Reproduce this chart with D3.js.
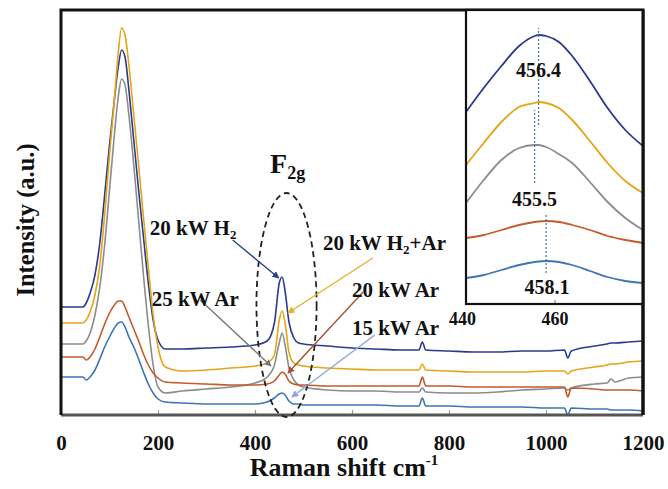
<!DOCTYPE html>
<html>
<head>
<meta charset="utf-8">
<script src="https://cdn.jsdelivr.net/npm/d3@7/dist/d3.min.js"></script>
<style>
  body { margin: 0; background: #fff; }
  text { font-family: "Liberation Serif", "Times New Roman", Times, serif; font-weight: bold; fill: #111; }
</style>
</head>
<body>
<svg id="chart" width="668" height="489"></svg>
<script>
// Raman shift grid (cm-1) shared by the five spectra
const ramanShift = [0, 45, 52, 60, 70, 80, 90, 100, 110, 118,
  125, 132, 140, 150, 160, 170, 180, 190, 200, 215,
  250, 300, 350, 400, 425, 440, 450, 456, 462, 470,
  480, 490, 500, 550, 600, 650, 700, 738, 745, 752,
  800, 850, 900, 950, 1000, 1038, 1045, 1052, 1100, 1126,
  1134, 1142, 1170, 1200];

// intensities (a.u., stacked with offsets as in the figure)
const h2_20kW = [108, 108, 112, 122, 140, 172, 220, 270, 315, 348,
  365, 358, 325, 275, 225, 178, 132, 95, 75, 66,
  66, 67, 68, 70, 74, 92, 132, 138, 124, 93,
  77, 72, 71, 69, 67, 66, 65, 65, 73, 65,
  64, 63, 63, 64, 64, 65, 57, 64, 69, 71,
  72, 72, 73, 74];
const h2ar_20kW = [92, 92, 95, 103, 120, 150, 200, 260, 315, 362,
  387, 380, 350, 300, 250, 198, 148, 100, 68, 48,
  44, 45, 47, 49, 52, 60, 95, 104, 92, 63,
  52, 50, 49, 47, 46, 45, 45, 45, 51, 45,
  44, 43, 43, 43, 44, 44, 41, 44, 48, 50,
  51, 51, 53, 54];
const ar_25kW = [71, 71, 74, 82, 100, 128, 170, 225, 280, 318,
  336, 330, 300, 250, 195, 140, 90, 50, 28, 22,
  24, 26, 28, 32, 38, 50, 72, 82, 70, 47,
  35, 30, 28, 25, 24, 24, 23, 23, 27, 23,
  22, 22, 23, 25, 26, 27, 25, 27, 31, 32,
  36, 33, 37, 38];
const ar_20kW = [58, 58, 55, 58, 66, 78, 91, 102, 110, 114,
  114, 108, 98, 86, 74, 61, 50, 42, 37, 33,
  32, 31, 30, 30, 31, 34, 40, 43, 41, 34,
  31, 30, 30, 29, 29, 29, 29, 29, 38, 29,
  29, 28, 28, 28, 28, 28, 18, 27, 26, 25,
  25, 25, 25, 24];
const ar_15kW = [38, 38, 35, 38, 45, 56, 68, 78, 87, 92,
  93, 88, 78, 68, 56, 43, 31, 22, 16, 13,
  12, 11, 11, 11, 13, 17, 21, 22, 20, 14,
  11, 11, 10, 10, 10, 10, 9, 9, 17, 9,
  9, 8, 8, 8, 7, 7, 0, 7, 6, 6,
  5, 5, 5, 4];

// inset: zoom on the F2g band
const insetShift = [440, 444, 448, 452, 455.5, 456.4, 458.1, 461, 464, 468, 472, 476, 480];
const insetH2_20kW = [192, 216, 238, 258, 268, 269, 268, 262, 248, 223, 196, 174, 158];
const insetH2Ar_20kW = [139, 161, 182, 197, 201, 202, 201, 196, 184, 163, 141, 123, 111];
const insetAr_25kW = [101, 124, 144, 156, 159, 159, 157, 150, 141, 122, 102, 86, 74];
const insetAr_20kW = [66, 69, 74, 79, 82, 82.5, 83, 82, 79, 74, 68, 64, 61];
const insetAr_15kW = [26, 29, 34, 39, 42, 42.5, 43, 42, 39, 33, 27, 23, 21];
const peakLabels = ["456.4", "455.5", "458.1"];

const mainTicks = [0, 200, 400, 600, 800, 1000, 1200];
const insetTicks = [440, 460];

const colors = {navy: "#2b3a8c", gold: "#e5a516", gray: "#8c8c8c", orange: "#c55a2b", blue: "#3e74b8"};

const series = [
    {name: "20 kW H2", values: h2_20kW, inset: insetH2_20kW, color: colors.navy},
    {name: "20 kW H2+Ar", values: h2ar_20kW, inset: insetH2Ar_20kW, color: colors.gold},
    {name: "25 kW Ar", values: ar_25kW, inset: insetAr_25kW, color: colors.gray},
    {name: "20 kW Ar", values: ar_20kW, inset: insetAr_20kW, color: colors.orange},
    {name: "15 kW Ar", values: ar_15kW, inset: insetAr_15kW, color: colors.blue}
];

const FONT = "Liberation Serif, Times New Roman, Times, serif";
const svg = d3.select("#chart");
const plot = {left: 61, right: 643, top: 10, bottom: 415};

const x = d3.scaleLinear().domain([0, 1200]).range([plot.left, plot.right]);
const y = d3.scaleLinear().domain([0, 405]).range([plot.bottom, plot.top]);

svg.append("defs").append("clipPath").attr("id", "plotClip")
    .append("rect")
    .attr("x", plot.left).attr("y", plot.top)
    .attr("width", plot.right - plot.left).attr("height", plot.bottom - plot.top);

// arrow markers, one per colour
const arrowColors = {navy: "#24418f", gold: "#e9b02a", gray: "#777", orange: "#a5512e", blue: "#8ea6d6"};
Object.entries(arrowColors).forEach(([k, c]) => {
    svg.select("defs").append("marker")
        .attr("id", "arrow-" + k)
        .attr("viewBox", "0 0 10 10")
        .attr("refX", 9).attr("refY", 5)
        .attr("markerWidth", 7).attr("markerHeight", 7)
        .attr("markerUnits", "userSpaceOnUse")
        .attr("orient", "auto")
        .append("path").attr("d", "M0,0 L10,5 L0,10 z").attr("fill", c);
});

// spectra
const line = d3.line()
    .x((d, i) => x(ramanShift[i]))
    .y(d => y(d))
    .curve(d3.curveMonotoneX);

svg.append("g").attr("clip-path", "url(#plotClip)")
    .selectAll("path")
    .data(series)
    .enter()
    .append("path")
    .attr("d", d => line(d.values))
    .attr("fill", "none")
    .attr("stroke", d => d.color)
    .attr("stroke-width", 1.6);

// x ticks pointing inward + labels
const xAxis = d3.axisBottom(x).tickValues(mainTicks).tickFormat(d3.format("d"))
    .tickSizeInner(-5).tickSizeOuter(0).tickPadding(20);
const gx = svg.append("g").attr("transform", "translate(0," + plot.bottom + ")").call(xAxis);
gx.select(".domain").remove();
gx.selectAll(".tick line").attr("stroke", "#999").attr("stroke-width", 1.2);
gx.selectAll(".tick text")
    .attr("font-size", "21px")
    .attr("font-family", FONT)
    .attr("font-weight", "bold")
    .attr("fill", "#111");

// frame
svg.append("line").attr("x1", plot.left).attr("x2", plot.right).attr("y1", plot.bottom).attr("y2", plot.bottom)
    .attr("stroke", "#555").attr("stroke-width", 3);
svg.append("path")
    .attr("d", `M${plot.left},${plot.bottom} V${plot.top} H${plot.right} V${plot.bottom}`)
    .attr("fill", "none").attr("stroke", "#111").attr("stroke-width", 3);

// F2g ellipse
svg.append("ellipse")
    .attr("cx", x(465)).attr("cy", y(110))
    .attr("rx", x(527) - x(465)).attr("ry", y(-2) - y(110))
    .attr("fill", "none").attr("stroke", "#222").attr("stroke-width", 1.8)
    .attr("stroke-dasharray", "6,4");

const f2g = svg.append("text").attr("x", x(431)).attr("y", y(242)).attr("font-size", "28px");
f2g.append("tspan").text("F");
f2g.append("tspan").attr("font-size", "18px").attr("dy", 6).text("2g");

// annotations: label, arrow from/to in data units
const annotations = [
    {key: "navy", text: ["20 kW H", "2", ""], lx: 183, ly: 180, from: [354, 175], to: [449, 137]},
    {key: "gold", text: ["20 kW H", "2", "+Ar"], lx: 540, ly: 165, from: [643, 157], to: [468, 102]},
    {key: "gray", text: ["25 kW Ar", "", ""], lx: 187, ly: 109, from: [287, 115], to: [433, 49]},
    {key: "orange", text: ["20 kW Ar", "", ""], lx: 600, ly: 118, from: [623, 123], to: [468, 42]},
    {key: "blue", text: ["15 kW Ar", "", ""], lx: 600, ly: 80, from: [647, 80], to: [476, 18]}
];

annotations.forEach(a => {
    svg.append("line")
        .attr("x1", x(a.from[0])).attr("y1", y(a.from[1]))
        .attr("x2", x(a.to[0])).attr("y2", y(a.to[1]))
        .attr("stroke", arrowColors[a.key]).attr("stroke-width", 1.4)
        .attr("marker-end", "url(#arrow-" + a.key + ")");
    const t = svg.append("text").attr("x", x(a.lx)).attr("y", y(a.ly)).attr("font-size", "21px");
    t.append("tspan").text(a.text[0]);
    if (a.text[1]) {
        t.append("tspan").attr("font-size", "13px").attr("dy", 4).text(a.text[1]);
        t.append("tspan").attr("dy", -4).text(a.text[2]);
    }
});

// axis titles
svg.append("text")
    .attr("transform", "translate(28," + 220 + ") rotate(-90)")
    .attr("text-anchor", "middle").attr("dominant-baseline", "middle")
    .attr("font-size", "24.5px")
    .text("Intensity (a.u.)");

const xt = svg.append("text").attr("x", 344).attr("y", 476)
    .attr("text-anchor", "middle").attr("font-size", "26px");
xt.append("tspan").text("Raman shift cm");
xt.append("tspan").attr("font-size", "15px").attr("dy", -11).text("-1");

// ---- inset ----
const inset = {left: 466, right: 643, top: 10, bottom: 304};
const xi = d3.scaleLinear().domain([440, 480]).range([inset.left, inset.right]);
const yi = d3.scaleLinear().domain([0, 294]).range([inset.bottom, inset.top]);

svg.append("rect")
    .attr("x", inset.left).attr("y", inset.top)
    .attr("width", inset.right - inset.left).attr("height", inset.bottom - inset.top)
    .attr("fill", "#fff");

const insetLine = d3.line()
    .x((d, i) => xi(insetShift[i]))
    .y(d => yi(d))
    .curve(d3.curveMonotoneX);

svg.append("g")
    .selectAll("path")
    .data(series)
    .enter()
    .append("path")
    .attr("d", d => insetLine(d.inset))
    .attr("fill", "none")
    .attr("stroke", d => d.color)
    .attr("stroke-width", 1.8);

// peak position guides
const guides = [
    {pos: 456.4, y0: 179, y1: 276},
    {pos: 455.5, y0: 121, y1: 194},
    {pos: 458.1, y0: 31, y1: 91}
];
svg.append("g").selectAll("line")
    .data(guides)
    .enter()
    .append("line")
    .attr("x1", d => xi(d.pos)).attr("x2", d => xi(d.pos))
    .attr("y1", d => yi(d.y0)).attr("y2", d => yi(d.y1))
    .attr("stroke", "#4a7ab5").attr("stroke-width", 1.3)
    .attr("stroke-dasharray", "2,2");

const peakLabelPos = [[456.4, 227], [455.5, 98], [458.3, 10]];
svg.append("g").selectAll("text")
    .data(peakLabels)
    .enter()
    .append("text")
    .attr("x", (d, i) => xi(peakLabelPos[i][0]))
    .attr("y", (d, i) => yi(peakLabelPos[i][1]))
    .attr("text-anchor", "middle")
    .attr("font-size", "20px")
    .text(d => d);

const xiAxis = d3.axisBottom(xi).tickValues(insetTicks).tickSizeInner(-4).tickSizeOuter(0).tickPadding(8);
const gxi = svg.append("g").attr("transform", "translate(0," + inset.bottom + ")").call(xiAxis);
gxi.select(".domain").remove();
gxi.selectAll(".tick line").attr("stroke", "#777");
gxi.selectAll(".tick text")
    .attr("font-size", "18px")
    .attr("font-family", FONT)
    .attr("font-weight", "bold")
    .attr("fill", "#111")
    .attr("dx", d => d === 440 ? -4 : 0);

svg.append("rect")
    .attr("x", inset.left).attr("y", inset.top)
    .attr("width", inset.right - inset.left).attr("height", inset.bottom - inset.top)
    .attr("fill", "none").attr("stroke", "#111").attr("stroke-width", 2.2);
svg.append("line").attr("x1", inset.right).attr("x2", inset.right).attr("y1", inset.top).attr("y2", plot.bottom)
    .attr("stroke", "#111").attr("stroke-width", 3);
</script>
</body>
</html>
